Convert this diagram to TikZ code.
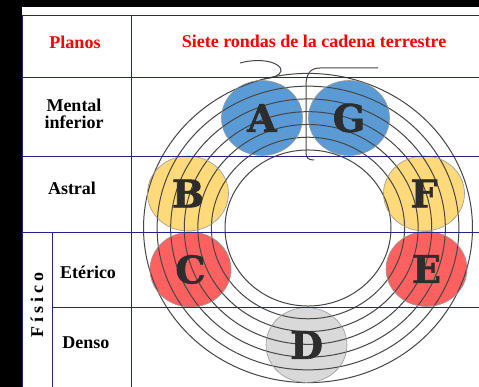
\documentclass[tikz,border=0pt]{standalone}
\usepackage{fontspec}
\setmainfont{Liberation Serif}
\newfontfamily\letterfont{DejaVu Serif}[BoldFeatures={FakeBold=1.6}]
\usetikzlibrary{shapes.geometric}
\definecolor{gridnavy}{RGB}{35,35,135}
\definecolor{ringgray}{RGB}{70,70,70}
\definecolor{ballblue}{RGB}{91,155,213}
\definecolor{ballyellow}{RGB}{255,217,122}
\definecolor{ballred}{RGB}{255,96,96}
\definecolor{ballgray}{RGB}{217,217,217}
\definecolor{lettergray}{RGB}{45,45,45}
\tikzset{
  gridline/.style={draw=gridnavy, line width=0.9pt},
  ringline/.style={draw=ringgray, line width=1pt},
  ballfill/.style={ellipse, minimum width=81pt, minimum height=75pt, inner sep=0pt, draw=none},
  ball/.style={ellipse, minimum width=81pt, minimum height=75pt, inner sep=0pt, draw=gray!80, line width=0.6pt,
     text=lettergray, font=\fontsize{38}{38}\selectfont\letterfont\bfseries},
  headtext/.style={text=red, font=\fontsize{18}{17}\selectfont\bfseries, inner sep=0pt},
  labtext/.style={text=black, font=\fontsize{18}{17}\selectfont\bfseries, inner sep=0pt, align=center}
}
\begin{document}
\begin{tikzpicture}[x=1pt,y=-1pt]
\useasboundingbox (0,0) rectangle (479,387);
\fill[white] (0,0) rectangle (479,387);
\fill[black] (0,0) rectangle (21.5,387);
\fill[black] (0,0) rectangle (479,7.5);

% coloured discs (fill only)
\node[ballfill, fill=ballblue]   (Af) at (262,118) {};
\node[ballfill, fill=ballblue]   (Gf) at (349,118) {};
\node[ballfill, fill=ballyellow] (Bf) at (188,193.5) {};
\node[ballfill, fill=ballyellow] (Ff) at (424,193.5) {};
\node[ballfill, fill=ballred]    (Cf) at (190.5,269.5) {};
\node[ballfill, fill=ballred]    (Ef) at (426.5,269) {};
\node[ballfill, fill=ballgray]   (Df) at (306.5,345) {};

% rings
\foreach \i in {0,...,6} {
  \pgfmathsetmacro\rx{83+\i*13.58}
  \pgfmathsetmacro\ry{0.94*\rx}
  \draw[ringline] (308,228) ellipse [x radius=\rx, y radius=\ry];
}
% coil ends
\draw[ringline] (314,160) .. controls (308,160) and (306,158) .. (306,152) -- (306,86)
   .. controls (306,74) and (310,68) .. (320,68) -- (378,68);
\draw[ringline] (240,63) .. controls (262,57) and (282,63) .. (281,71)
   .. controls (280,76) and (272,78) .. (264,79);

% disc outlines and letters
\node[ball] (A) at (262,118) {A};
\node[ball] (G) at (349,118) {G};
\node[ball] (B) at (188,193.5) {B};
\node[ball] (F) at (424,193.5) {F};
\node[ball] (C) at (190.5,269.5) {C};
\node[ball] (E) at (426.5,269) {E};
\node[ball] (D) at (306.5,345) {D};

% table texts
\node[headtext] (planos) at (75,42) {Planos};
\node[headtext] (siete) at (314,41) {Siete rondas de la cadena terrestre};
\node[labtext] (mental) at (74,114) {Mental\\inferior};
\node[labtext] (astral) at (72,188) {Astral};
\node[labtext] (eterico) at (88,272) {Etérico};
\node[labtext] (denso) at (86,343) {Denso};
\node[labtext, rotate=90] (fisico) at (37,305) {F\kern4pt í\kern4pt s\kern4pt i\kern4pt c\kern4pt o};

% table grid
\draw[gridline] (22,15) -- (479,15);
\draw[gridline] (22,77) -- (479,77);
\draw[gridline] (22,156) -- (479,156);
\draw[gridline] (22,232) -- (479,232);
\draw[gridline] (52,307) -- (479,307);
\draw[gridline] (22,15) -- (22,387);
\draw[gridline] (131,15) -- (131,387);
\draw[gridline] (52,232) -- (52,387);
\end{tikzpicture}
\end{document}
